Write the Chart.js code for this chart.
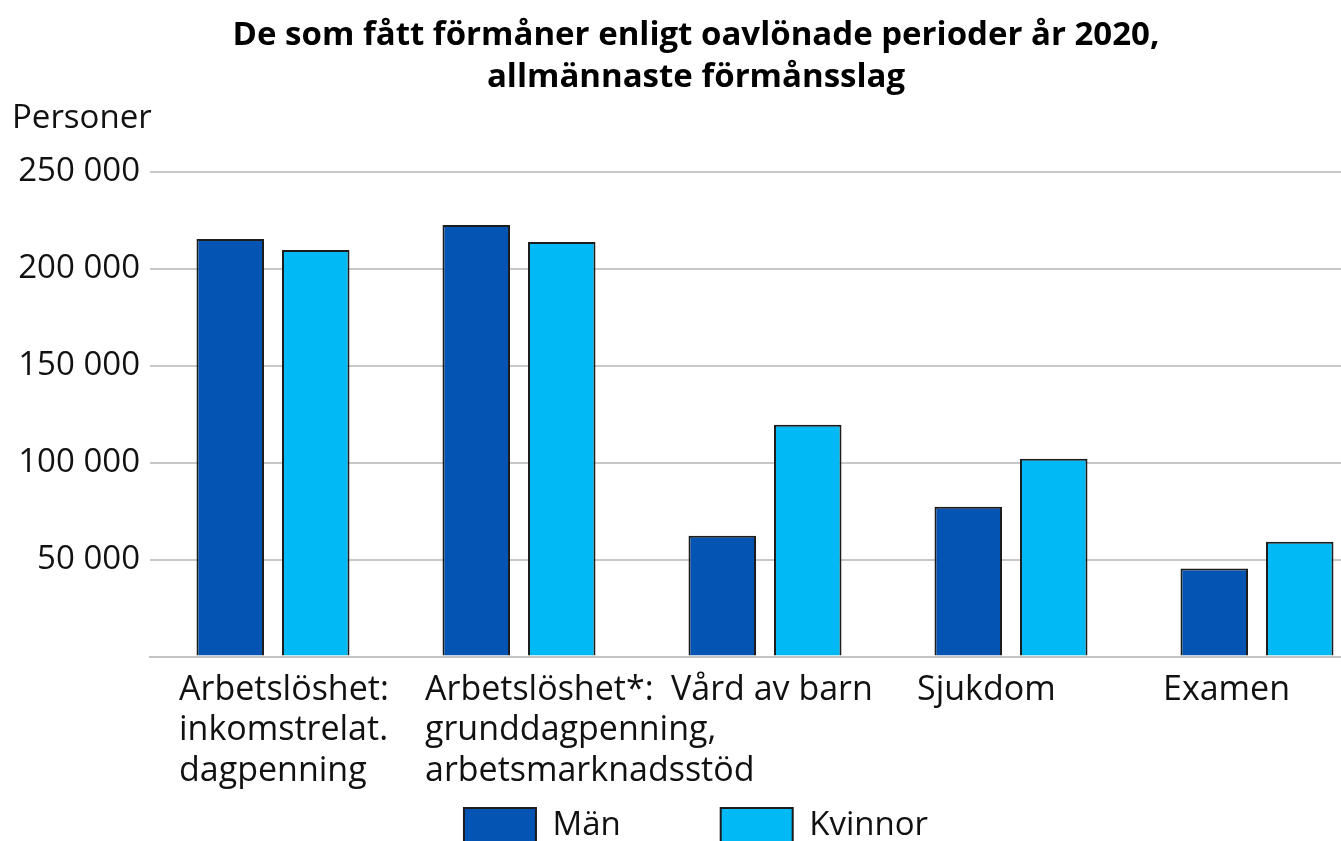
<!DOCTYPE html>
<html lang="sv">
<head>
<meta charset="utf-8">
<title>Förmåner under oavlönade perioder 2020</title>
<script src="https://cdn.jsdelivr.net/npm/chart.js@4/dist/chart.umd.min.js"></script>
<style>
  html, body { margin: 0; padding: 0; background: #fff; overflow: hidden; }
  #wrap { width: 1380px; height: 951px; position: relative; }
</style>
</head>
<body>
<div id="wrap"><canvas id="formanChart"></canvas></div>
<script>
// Data
const kategorier = [
    ['Arbetslöshet:', 'inkomstrelat.', 'dagpenning'],
    ['Arbetslöshet*:', 'grunddagpenning,', 'arbetsmarknadsstöd'],
    'Vård av barn',
    'Sjukdom',
    'Examen'
];
const man = [215500, 222700, 62400, 77300, 45400];
const kvinnor = [209800, 213900, 119600, 102100, 59300];
const yTicks = [50000, 100000, 150000, 200000, 250000];

const fontFamily = '"Open Sans", "Noto Sans", sans-serif';
const fmt = (v) => String(v).replace(/\B(?=(\d{3})+(?!\d))/g, ' ');

// Legenden har stort avstånd mellan posterna; lyft upp den så rutorna hamnar under etiketterna
const legendLift = {
    id: 'legendLift',
    afterLayout(chart) {
        const lg = chart.legend;
        if (!lg) return;
        lg.top -= 97;
        lg.bottom -= 97;
    }
};

document.addEventListener('DOMContentLoaded', () => {
    if (typeof window.Chart === 'undefined') {
        console.warn('Chart.js saknas');
        return;
    }
    const ctx = document.getElementById('formanChart').getContext('2d');

    new Chart(ctx, {
        type: 'bar',
        data: {
            labels: kategorier,
            datasets: [
                {
                    label: 'Män',
                    data: man,
                    backgroundColor: '#0454b4',
                    borderColor: '#1c1c1c',
                    borderWidth: 2
                },
                {
                    label: 'Kvinnor',
                    data: kvinnor,
                    backgroundColor: '#00b9f5',
                    borderColor: '#1c1c1c',
                    borderWidth: 2
                }
            ]
        },
        plugins: [legendLift],
        options: {
            responsive: true,
            maintainAspectRatio: false,
            animation: false,
            categoryPercentage: 0.695,
            barPercentage: 0.79,
            layout: { padding: { left: 12, top: 14, right: 0, bottom: 0 } },
            plugins: {
                title: {
                    display: true,
                    text: ['De som fått förmåner enligt oavlönade perioder år 2020,', 'allmännaste förmånsslag'],
                    color: '#000',
                    font: { family: fontFamily, size: 33, weight: 'bold', lineHeight: 1.28 },
                    padding: { top: 0, bottom: 0 }
                },
                subtitle: {
                    display: true,
                    text: 'Personer',
                    align: 'start',
                    color: '#111',
                    font: { family: fontFamily, size: 33, lineHeight: 1.2 },
                    padding: { top: 0, bottom: 34 }
                },
                legend: {
                    position: 'bottom',
                    labels: {
                        color: '#111',
                        font: { family: fontFamily, size: 33 },
                        boxWidth: 72,
                        boxHeight: 36,
                        padding: 100
                    }
                },
                tooltip: { enabled: false }
            },
            scales: {
                x: {
                    grid: { display: false, drawTicks: false },
                    border: { display: true, color: '#c4c4c4', width: 2 },
                    ticks: {
                        color: '#111',
                        font: { family: fontFamily, size: 34, lineHeight: 1.2 },
                        padding: 13,
                        align: 'start',
                        labelOffset: -94,
                        maxRotation: 0,
                        autoSkip: false
                    },
                    afterFit: (scale) => {
                        // etiketterna får gärna gå utanför – ingen extra marginal
                        scale.paddingLeft = 0;
                        scale.paddingRight = 0;
                    }
                },
                y: {
                    min: 0,
                    max: 250000,
                    afterBuildTicks: (scale) => {
                        scale.ticks = [0].concat(yTicks).map((v) => ({ value: v }));
                    },
                    afterFit: (scale) => { scale.width = 138; },
                    grid: { color: '#c8c8c8', lineWidth: 2, drawTicks: false },
                    border: { display: false },
                    ticks: {
                        color: '#111',
                        font: { family: fontFamily, size: 33 },
                        padding: 10,
                        callback: (v) => (v === 0 ? '' : fmt(v))
                    }
                }
            }
        }
    });
});
</script>
</body>
</html>
